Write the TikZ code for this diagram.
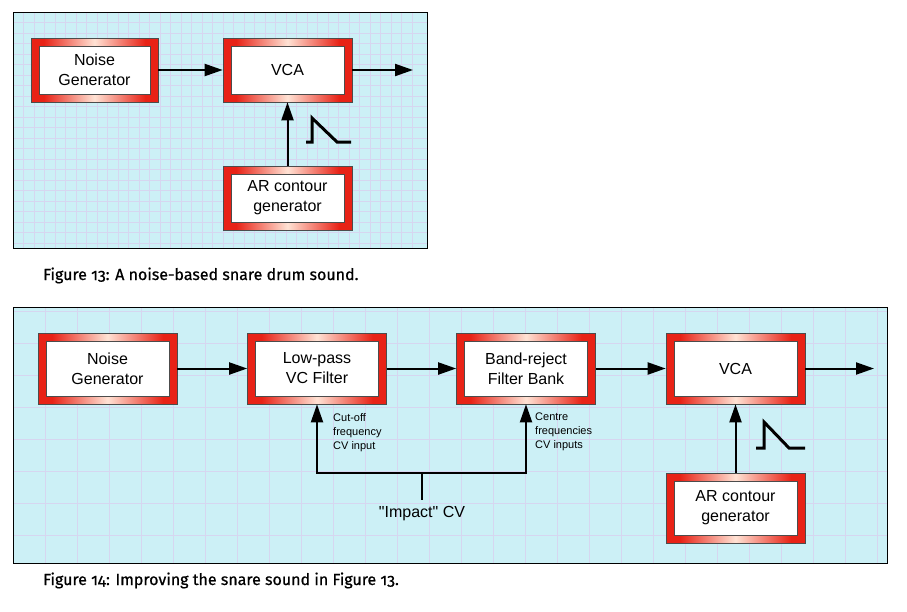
\documentclass[tikz,border=0pt]{standalone}
\usepackage{fontspec}
\usepackage{tikz}
\usetikzlibrary{arrows.meta}
\newfontfamily\boxfont{Liberation Sans}
\newfontfamily\capfont[FakeBold=0.7,Numbers=OldStyle]{Fira Sans}
\definecolor{framered}{RGB}{232,34,22}
\definecolor{framepale}{RGB}{255,226,212}
\definecolor{panelcyan}{RGB}{204,240,246}
\definecolor{gridlav}{RGB}{214,214,240}
\pgfdeclarehorizontalshading{redframe}{100bp}{color(0bp)=(framered); color(30bp)=(framered); color(50bp)=(framepale); color(70bp)=(framered); color(100bp)=(framered)}
\newcommand{\unitfont}{\boxfont\fontsize{16}{20}\selectfont}
\newcommand{\notefont}{\boxfont\fontsize{11}{14}\selectfont}
\newcommand{\capt}{\capfont\fontsize{16}{19}\selectfont}

\tikzset{
  unit/.style={shading=redframe, draw=black!70, line width=0.6pt,
    minimum width=139pt, minimum height=71pt, font=\unitfont, align=center,
    path picture={\filldraw[fill=white, draw=black!70, line width=0.5pt]
      ([shift={(8pt,-8pt)}]path picture bounding box.north west) rectangle
      ([shift={(-8pt,8pt)}]path picture bounding box.south east);}},
  signal/.style={line width=2pt, ->},
  envelope/.style={line width=3pt, line join=miter},
  note/.style={anchor=north west, align=left, inner sep=0pt, font=\notefont},
  caption/.style={anchor=base west, inner sep=0pt, font=\capt},
}

\begin{document}
\begin{tikzpicture}[x=1pt,y=-1pt,>={Triangle[length=18pt,width=12pt]}]
\useasboundingbox (0,0) rectangle (907,611);
% Figure 13 panel
\fill[panelcyan] (13,12) rectangle (427,248);
\foreach \gx in {23.5,34,...,420} \draw[gridlav,line width=0.4pt] (\gx,12) -- (\gx,248);
\foreach \gy in {22.5,33,...,245} \draw[gridlav,line width=0.4pt] (13,\gy) -- (427,\gy);
\draw[line width=1pt] (13,12) rectangle (427,248);

\node[unit, minimum width=127pt, minimum height=64pt] (noiseA) at (94.5,70) {Noise\\Generator};
\node[unit, minimum width=129pt, minimum height=64pt] (vcaA) at (287.5,70) {VCA};
\node[unit, minimum width=129pt, minimum height=64pt] (arA) at (287.5,198) {AR contour\\generator};
\coordinate (outA) at (413,70);
\draw[signal] (noiseA) -- (vcaA);
\draw[signal] (vcaA) -- (outA);
\draw[signal] (arA) -- (vcaA);
\draw[envelope] (306,142) -- (312,142) -- (312,118) -- (337,142) -- (351,142);

\node[caption] (capA) at (43,280) {Figure 13: A noise-based snare drum sound.};

% Figure 14 panel
\fill[panelcyan] (13,307) rectangle (887,563);
\foreach \gx in {45,77,...,880} \draw[gridlav,line width=0.9pt] (\gx,307) -- (\gx,563);
\foreach \gy in {311,343,...,560} \draw[gridlav,line width=0.9pt] (13,\gy) -- (887,\gy);
\draw[line width=1pt] (13,307) rectangle (887,563);

\node[unit] (noiseB) at (107.5,368.5) {Noise\\Generator};
\node[unit] (lpfB) at (317,368.5) {Low-pass\\VC Filter};
\node[unit] (brfB) at (526,368.5) {Band-reject\\Filter Bank};
\node[unit] (vcaB) at (735.5,368.5) {VCA};
\node[unit, minimum height=70pt] (arB) at (735.5,508) {AR contour\\generator};
\coordinate (outB) at (874,368.5);
\draw[signal] (noiseB) -- (lpfB);
\draw[signal] (lpfB) -- (brfB);
\draw[signal] (brfB) -- (vcaB);
\draw[signal] (vcaB) -- (outB);
\draw[signal] (arB) -- (vcaB);
\draw[envelope] (756,448) -- (764,448) -- (764,422) -- (789,448) -- (805,448);

\node[font=\unitfont, anchor=base, inner xsep=1pt, inner ysep=6pt] (impact) at (422,517) {"Impact" CV};
\coordinate (cvjoin) at (422,473);
\draw[signal] (impact.north) -- (cvjoin) -| (lpfB.south);
\draw[signal] (cvjoin) -| (brfB.south);
\node[note] (cutoff) at (333,413) {Cut-off\\frequency\\CV input};
\node[note] (centre) at (535,413) {Centre\\frequencies\\CV inputs};

\node[caption] (capB) at (43,585) {Figure 14: Improving the snare sound in Figure 13.};
\end{tikzpicture}
\end{document}
